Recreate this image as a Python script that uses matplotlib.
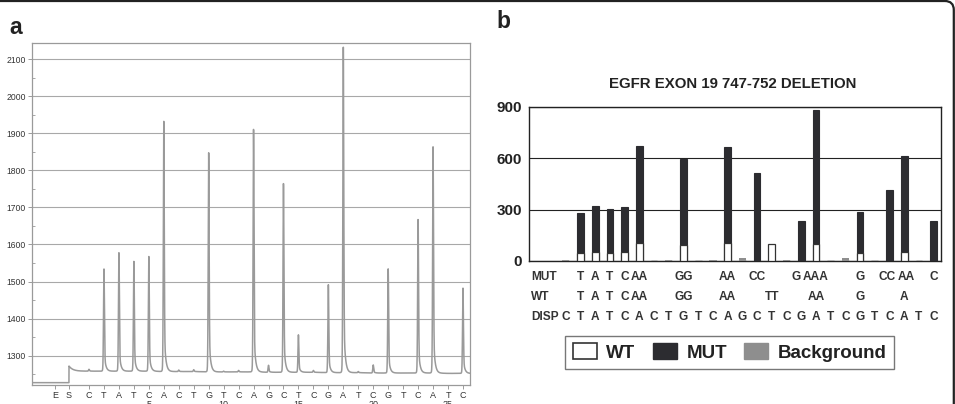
import matplotlib
matplotlib.use("Agg")
import matplotlib.pyplot as plt
import numpy as np
from matplotlib.patches import FancyBboxPatch, Patch
from matplotlib.transforms import IdentityTransform, blended_transform_factory
from matplotlib.ticker import MultipleLocator

plt.rcParams["font.family"] = ["Liberation Sans", "DejaVu Sans"]

# ---- panel a: pyrogram ----
disp_seq = list("CTATCACTGTCAGCTCGATCGTCATC")
disp_pos = list(range(1, 27))
pre_labels = ["E", "S"]
pre_pos = [-1.27, -0.34]

# baseline level at dispensation 0..26 and the level before the S step
baseline = [1258, 1258, 1258, 1258, 1258, 1258, 1257, 1257, 1257, 1256, 1256, 1256, 1256,
            1255, 1255, 1255, 1255, 1254, 1254, 1254, 1253, 1253, 1253, 1253, 1253, 1252, 1252]
pre_level = 1227
s_peak = 1272

# peak tops per dispensation
peak_top = [1263, 1536, 1581, 1557, 1569, 1933, 1261, 1262, 1850, 1258, 1260, 1918, 1274,
            1766, 1356, 1260, 1492, 2137, 1257, 1275, 1537, 1253, 1668, 1864, 1252, 1483]

# ---- panel b: histogram ----
mut_vals = [0, 280, 321, 302, 314, 675, 0, 0, 595, 0, 0, 665, 0,
            512, 0, 0, 236, 880, 0, 0, 285, 0, 415, 612, 0, 233]
wt_vals = [0, 45, 50, 47, 50, 106, 0, 0, 95, 0, 0, 106, 0,
           0, 102, 0, 0, 97, 0, 0, 45, 0, 0, 50, 0, 0]
bg_vals = [4, 0, 0, 0, 0, 0, 0, 3, 0, 0, 3, 0, 15,
           0, 0, 3, 0, 0, 0, 20, 0, 0, 0, 0, 0, 0]
mut_row = {2: "T", 3: "A", 4: "T", 5: "C", 6: "AA", 9: "GG", 12: "AA", 14: "CC",
           16.65: "G", 18: "AAA", 21: "G", 22.82: "CC", 24.15: "AA", 26: "C"}
wt_row = {2: "T", 3: "A", 4: "T", 5: "C", 6: "AA", 9: "GG", 12: "AA", 15: "TT",
          18: "AA", 21: "G", 24: "A"}

W, H = 955, 404
fig = plt.figure(figsize=(W / 100, H / 100), dpi=100)
fig.set_facecolor("white")


def px_axes(left, top, right, bottom):
    return fig.add_axes([left / W, 1 - bottom / H, (right - left) / W, (bottom - top) / H])


# ---------------- panel a ----------------
ax = px_axes(32, 43, 470, 384.5)
gray = "#9a9a9a"
x = np.linspace(-2.81, 26.47, 6000)
base = np.interp(x, range(0, 27), baseline)
curve = np.where(x < pre_pos[1], pre_level, base)


def spike(dx):
    core = np.exp(-dx ** 2 / (2 * 0.03 ** 2))
    tail = np.where(dx >= 0, np.exp(-dx / 0.1), np.exp(dx / 0.03))
    return 0.8 * core + 0.2 * tail


for p, top, b in zip(disp_pos, peak_top, baseline[1:]):
    curve = curve + (top - b) * spike(x - p)
after_s = x >= pre_pos[1]
curve = curve + np.where(after_s, (s_peak - baseline[0]) * np.exp(-(x - pre_pos[1]) / 0.25), 0)

ax.plot(x, curve, color=gray, lw=1.1)
ax.set_xlim(-2.81, 26.47)
ax.set_ylim(1222, 2144)
ax.yaxis.set_minor_locator(MultipleLocator(50))
ax.set_yticks(range(1300, 2101, 100))
ax.set_yticklabels([str(v) for v in range(1300, 2101, 100)])
ax.grid(axis="y", color="#a8a8a8", lw=0.8)
ax.set_axisbelow(True)

ticks_x = pre_pos + disp_pos
labels_x = pre_labels + [
    f"{c}\n{i}" if i % 5 == 0 else c for i, c in zip(disp_pos, disp_seq)
]
ax.set_xticks(ticks_x)
ax.set_xticklabels(labels_x, fontsize=6.5, color="#333333", linespacing=1.0, va="top")
ax.tick_params(axis="x", length=3, width=0.7, color=gray, pad=2)
ax.tick_params(axis="y", which="major", length=3, width=0.7, color=gray, pad=1.5,
               labelsize=6.2, labelcolor="#333333")
ax.tick_params(axis="y", which="minor", length=2, width=0.6, color=gray, direction="in")
for s in ax.spines.values():
    s.set_color(gray)
    s.set_linewidth(0.9)

# ---------------- panel b ----------------
bx = px_axes(529, 107, 941, 261)
dark = "#2c2c30"
bx.bar(disp_pos, mut_vals, width=0.45, color=dark, edgecolor=dark, lw=0.8, zorder=3)
bx.bar(disp_pos, wt_vals, width=0.45, color="white", edgecolor="#333333", lw=0.9, zorder=4)
bx.bar(disp_pos, bg_vals, width=0.5, color="#8e8e8e", lw=0, zorder=4)
bx.set_xlim(-1.5, 26.5)
bx.set_ylim(0, 900)
bx.set_yticks([0, 300, 600, 900])
bx.set_xticks([])
bx.tick_params(axis="y", length=0, pad=5, labelsize=11, labelcolor="#222222")
for lab in bx.get_yticklabels():
    lab.set_fontweight("bold")
bx.grid(axis="y", color="#222222", lw=0.8)
bx.set_axisbelow(True)
for s in bx.spines.values():
    s.set_color("#222222")
    s.set_linewidth(1.0)

tr = blended_transform_factory(bx.transData, fig.transFigure)
row_kw = dict(fontsize=8.6, fontweight="bold", color="#333333", ha="center", va="center",
              transform=tr)
rows_y = {"MUT": 277, "WT": 297, "DISP": 317}
for name, yy in rows_y.items():
    bx.text(-1.38, 1 - yy / H, name, **{**row_kw, "ha": "left"})
for p, t in mut_row.items():
    bx.text(p, 1 - rows_y["MUT"] / H, t, **row_kw)
for p, t in wt_row.items():
    bx.text(p, 1 - rows_y["WT"] / H, t, **row_kw)
for p, t in zip(disp_pos, disp_seq):
    bx.text(p, 1 - rows_y["DISP"] / H, t, **row_kw)

fig.text(733 / W, 1 - 84 / H, "EGFR EXON 19 747-752 DELETION", ha="center", va="center",
         fontsize=10.8, fontweight="bold", color="#222222")

handles = [Patch(facecolor="white", edgecolor="#333333", lw=1.2),
           Patch(facecolor=dark, edgecolor=dark),
           Patch(facecolor="#8e8e8e", edgecolor="#8e8e8e")]
leg = fig.legend(handles, ["WT", "MUT", "Background"], ncol=3, loc="center",
                 bbox_to_anchor=(729.5 / W, 1 - 352.5 / H), fancybox=False,
                 prop=dict(size=13.5, weight="bold"), handlelength=1.3, handleheight=0.9,
                 handletextpad=0.5, columnspacing=0.9, borderpad=0.4, frameon=True)
leg.get_frame().set_edgecolor("#555555")
leg.get_frame().set_linewidth(1.0)
for t in leg.get_texts():
    t.set_color("#222222")

# panel letters
fig.text(9 / W, 1 - 27 / H, "a", fontsize=16.5, fontweight="bold", va="center", ha="left",
         color="#222222")
fig.text(496 / W, 1 - 21 / H, "b", fontsize=16.5, fontweight="bold", va="center", ha="left",
         color="#222222")

# outer rounded frame (only top/right edges visible)
frame = FancyBboxPatch((-30, -30), W + 30 - 1.2, H + 30 - 1.0,
                       boxstyle="round,pad=0,rounding_size=9", fill=False,
                       edgecolor="#222222", lw=1.6, transform=IdentityTransform())
fig.patches.append(frame)

fig.savefig("out.png", dpi=100)
